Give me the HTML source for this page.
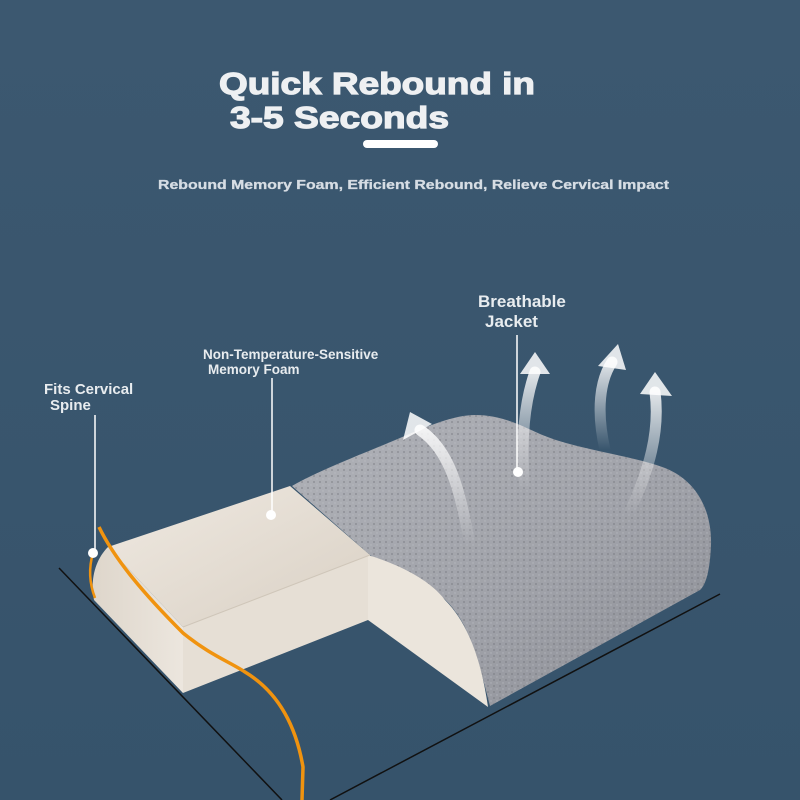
<!DOCTYPE html>
<html><head><meta charset="utf-8"><style>
html,body{margin:0;padding:0;background:#3a566e;}
svg{display:block}
text{font-family:"Liberation Sans",Arial,sans-serif;font-weight:bold;}
</style></head><body>
<svg width="800" height="800" viewBox="0 0 800 800" xmlns="http://www.w3.org/2000/svg">
<defs>
<linearGradient id="bg" x1="0" y1="0" x2="0" y2="1"><stop offset="0" stop-color="#3c5870"/><stop offset="1" stop-color="#36536b"/></linearGradient>
<linearGradient id="cream" x1="0" y1="0" x2="1" y2="1"><stop offset="0" stop-color="#efe9e1"/><stop offset="1" stop-color="#d9d0c4"/></linearGradient>
<linearGradient id="cream2" x1="0" y1="0" x2="1" y2="0"><stop offset="0" stop-color="#ded6cb"/><stop offset="1" stop-color="#ece6de"/></linearGradient>
<linearGradient id="gray" x1="0" y1="0" x2="1" y2="1"><stop offset="0" stop-color="#b0b2b8"/><stop offset="0.6" stop-color="#9fa1a8"/><stop offset="1" stop-color="#8a8c93"/></linearGradient>
<pattern id="dots" width="6" height="6" patternUnits="userSpaceOnUse"><circle cx="2" cy="2" r="0.9" fill="#6d6f76"/><circle cx="5" cy="5" r="0.7" fill="#c0c2c8"/></pattern>
<linearGradient id="arr" x1="0" y1="1" x2="0" y2="0"><stop offset="0" stop-color="#fff" stop-opacity="0"/><stop offset="1" stop-color="#fff" stop-opacity="0.85"/></linearGradient>
</defs>
<rect width="800" height="800" fill="url(#bg)"/>

<text x="219" y="94" font-size="31" fill="#eef0f2" stroke="#eef0f2" stroke-width="1.2" textLength="316" lengthAdjust="spacingAndGlyphs">Quick Rebound in</text>
<text x="230" y="128" font-size="31" fill="#eef0f2" stroke="#eef0f2" stroke-width="1.2" textLength="219" lengthAdjust="spacingAndGlyphs">3-5 Seconds</text>
<rect x="363" y="140" width="75" height="8" rx="4" fill="#fff"/>
<text x="158" y="189" font-size="13" fill="#d6dde4" stroke="#d6dde4" stroke-width="0.3" textLength="511" lengthAdjust="spacingAndGlyphs">Rebound Memory Foam, Efficient Rebound, Relieve Cervical Impact</text>

<line x1="59" y1="568" x2="282" y2="800" stroke="#111" stroke-width="1.5"/>
<line x1="330" y1="800" x2="720" y2="594" stroke="#111" stroke-width="1.5"/>

<path d="M292,486 C320,470 360,455 400,438 C430,425 455,415 475,415 C505,415 525,428 545,436 C580,450 630,455 665,468 C700,482 712,515 711,545 C710,570 706,585 700,590 L490,706 C478,660 470,620 440,595 C410,575 385,565 370,555 Z" fill="url(#gray)"/>
<path d="M292,486 C320,470 360,455 400,438 C430,425 455,415 475,415 C505,415 525,428 545,436 C580,450 630,455 665,468 C700,482 712,515 711,545 C710,570 706,585 700,590 L490,706 C478,660 470,620 440,595 C410,575 385,565 370,555 Z" fill="url(#dots)" opacity="0.6"/>

<polygon points="108,547 290,486 370,555 183,627" fill="url(#cream)"/>
<path d="M108,547 L183,627 L183,693 L94,600 C90,580 95,560 108,547 Z" fill="url(#cream2)"/>
<polygon points="183,627 370,555 368,620 183,693" fill="#e6dfd5"/>
<path d="M368,555 C400,565 430,580 445,600 C470,625 482,665 488,707 L368,620 Z" fill="#ebe5dc"/>
<line x1="183" y1="627" x2="370" y2="555" stroke="#cfc6b9" stroke-width="1"/>

<g fill="none" stroke="url(#arr)" stroke-width="11" stroke-linecap="round">
<path d="M470,545 C460,490 450,450 420,430"/>
<path d="M525,490 C520,440 525,400 535,372"/>
<path d="M605,450 C596,410 600,380 612,362"/>
<path d="M628,515 C650,470 660,430 655,392"/>
</g>
<g fill="#fff" opacity="0.85">
<polygon points="403,440 410,412 432,424"/>
<polygon points="520,374 535,352 550,374"/>
<polygon points="598,366 618,344 626,370"/>
<polygon points="640,394 655,372 672,396"/>
</g>

<path d="M99,527 C115,560 145,595 183,633 C210,655 230,662 245,672 C275,690 295,720 303,767 L302,800" fill="none" stroke="#f0930f" stroke-width="3.5"/>
<path d="M93,553 C88,570 90,585 95,598" fill="none" stroke="#f0930f" stroke-width="2.5"/>

<text x="478" y="307" font-size="17" fill="#e8ecef">Breathable</text>
<text x="485" y="327" font-size="17" fill="#e8ecef">Jacket</text>
<line x1="517" y1="335" x2="517" y2="470" stroke="#fff" stroke-width="1.5"/>
<circle cx="518" cy="472" r="5" fill="#fff"/>

<text x="203" y="359" font-size="13.5" fill="#e8ecef">Non-Temperature-Sensitive</text>
<text x="208" y="374" font-size="13.5" fill="#e8ecef">Memory Foam</text>
<line x1="272" y1="378" x2="272" y2="512" stroke="#fff" stroke-width="1.5"/>
<circle cx="271" cy="515" r="5" fill="#fff"/>

<text x="44" y="394" font-size="15" fill="#e8ecef">Fits Cervical</text>
<text x="50" y="410" font-size="15" fill="#e8ecef">Spine</text>
<line x1="95" y1="415" x2="95" y2="550" stroke="#fff" stroke-width="1.5"/>
<circle cx="93" cy="553" r="5" fill="#fff"/>
</svg>
</body></html>
